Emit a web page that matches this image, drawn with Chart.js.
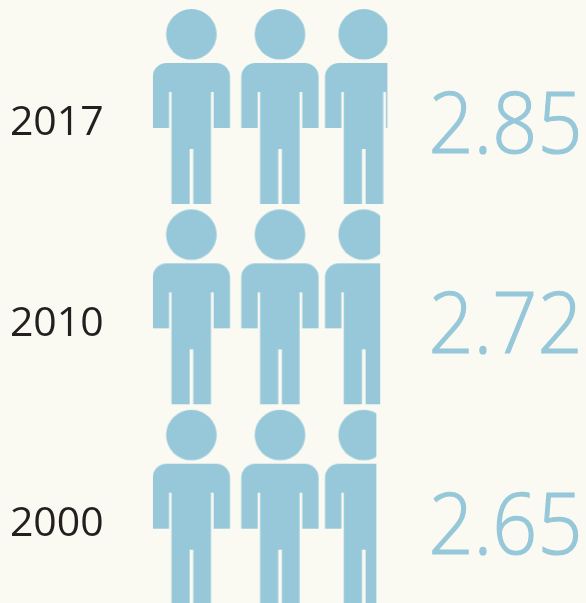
<!DOCTYPE html>
<html>
<head>
<meta charset="utf-8">
<script src="https://cdn.jsdelivr.net/npm/chart.js@4/dist/chart.umd.min.js"></script>
<style>
html,body{margin:0;padding:0;background:#fbfaf2;overflow:hidden;width:586px;height:603px}
#wrap{width:586px;height:603px;overflow:hidden}
canvas{display:block}
</style>
</head>
<body>
<div id="wrap"><canvas id="c" width="586" height="620"></canvas></div>
<script>
const years = ['2017', '2010', '2000'];
const peoplePerHousehold = [2.85, 2.72, 2.65];

const axisMin = -1.388;
const axisMax = 6.447;
const iconColor = '#96c8da';
const textColor = '#231f20';
const rowHeight = 195;
const personOffsets = [0, 88.6, 172.3];

function drawPerson(g, x) {
  g.beginPath();
  g.arc(x + 38.7, 25.3, 25.3, 0, Math.PI * 2);
  g.fill();
  g.beginPath();
  g.moveTo(x, 119);
  g.lineTo(x, 68);
  g.arcTo(x, 54, x + 14, 54, 14);
  g.lineTo(x + 63.3, 54);
  g.arcTo(x + 77.3, 54, x + 77.3, 68, 14);
  g.lineTo(x + 77.3, 119);
  g.lineTo(x + 61, 119);
  g.lineTo(x + 61, 83);
  g.lineTo(x + 58.3, 83);
  g.lineTo(x + 58.3, 195);
  g.lineTo(x + 40.6, 195);
  g.lineTo(x + 40.6, 140);
  g.lineTo(x + 37, 140);
  g.lineTo(x + 37, 195);
  g.lineTo(x + 18.8, 195);
  g.lineTo(x + 18.8, 83);
  g.lineTo(x + 16.4, 83);
  g.lineTo(x + 16.4, 119);
  g.closePath();
  g.fill();
}

const tile = document.createElement('canvas');
tile.width = 300;
tile.height = rowHeight;
const tg = tile.getContext('2d');
tg.fillStyle = iconColor;
personOffsets.forEach(o => drawPerson(tg, o));

const canvas = document.getElementById('c');
const ctx = canvas.getContext('2d');

function rowFill(c) {
  const left = c.chart.scales.x.getPixelForValue(axisMin);
  const top = c.chart.scales.y.getPixelForValue(c.dataIndex) - rowHeight / 2;
  const p = ctx.createPattern(tile, 'no-repeat');
  p.setTransform(new DOMMatrix().translate(left, top));
  return p;
}

const valueLabels = {
  id: 'valueLabels',
  afterDatasetsDraw(chart) {
    const g = chart.ctx;
    const meta = chart.getDatasetMeta(0);
    g.save();
    g.fillStyle = iconColor;
    g.strokeStyle = iconColor;
    g.lineWidth = 1.2;
    g.font = '300 84px "Open Sans"';
    g.textAlign = 'left';
    g.textBaseline = 'alphabetic';
    meta.data.forEach((bar, i) => {
      const t = peoplePerHousehold[i].toFixed(2);
      g.fillText(t, 428.5, bar.y + 46.5, 154);
      g.strokeText(t, 428.5, bar.y + 46.5, 154);
    });
    g.restore();
  }
};

new Chart(ctx, {
  type: 'bar',
  data: {
    labels: years,
    datasets: [{
      data: peoplePerHousehold,
      base: axisMin,
      backgroundColor: rowFill,
      borderWidth: 0,
      barThickness: rowHeight
    }]
  },
  plugins: [valueLabels],
  options: {
    indexAxis: 'y',
    responsive: false,
    animation: false,
    layout: { padding: { top: 6.3, bottom: 12.6, left: 0, right: 0 } },
    plugins: { legend: { display: false }, tooltip: { enabled: false } },
    scales: {
      x: { type: 'linear', min: axisMin, max: axisMax, display: false },
      y: {
        type: 'category',
        grid: { display: false, drawTicks: false },
        border: { display: false },
        afterFit(s) { s.width = 152.7; s.paddingTop = 0; s.paddingBottom = 0; },
        ticks: {
          color: textColor,
          font: { family: '"Open Sans"', size: 41 },
          padding: 49,
          labelOffset: 17
        }
      }
    }
  }
});
</script>
</body>
</html>
